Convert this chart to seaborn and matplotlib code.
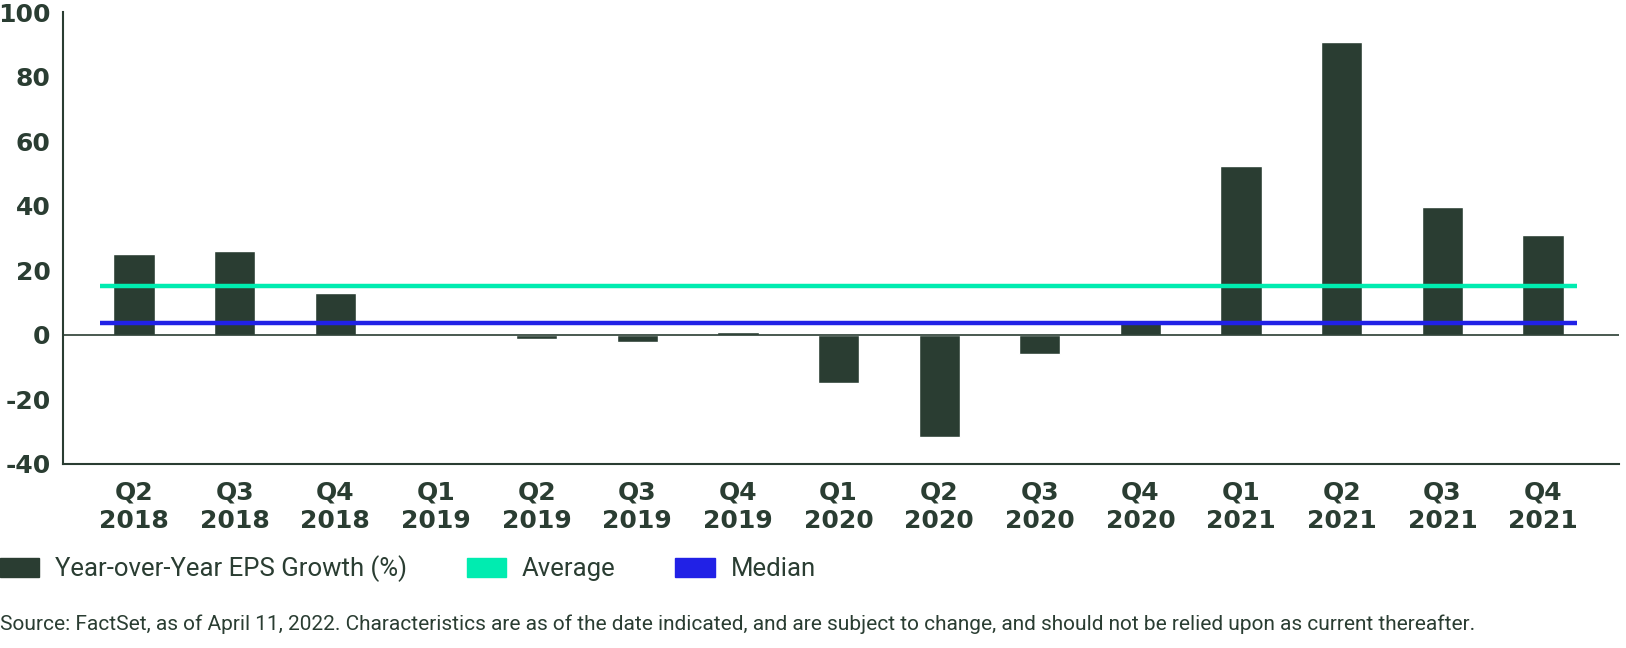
import numpy as np
import pandas as pd
import matplotlib
matplotlib.use("Agg")
import matplotlib.pyplot as plt
import seaborn as sns
from matplotlib.patches import Patch

# -------------------------------
# Data
# -------------------------------
quarters = ["Q2", "Q3", "Q4", "Q1", "Q2", "Q3", "Q4", "Q1",
            "Q2", "Q3", "Q4", "Q1", "Q2", "Q3", "Q4"]
years = ["2018", "2018", "2018", "2019", "2019", "2019", "2019", "2020",
         "2020", "2020", "2020", "2021", "2021", "2021", "2021"]
eps_growth = [25.0, 26.0, 13.1, 0.1, -1.2, -2.2, 0.9, -15.0,
              -31.6, -5.8, 3.8, 52.4, 90.7, 39.6, 31.0]
average = 15.1
median = 3.8
y_ticks = [-40, -20, 0, 20, 40, 60, 80, 100]

labels = [f"{q}\n{y}" for q, y in zip(quarters, years)]
df = pd.DataFrame({"label": labels, "growth": eps_growth})

# -------------------------------
# Style
# -------------------------------
sns.set_style("white")
plt.rcParams["font.family"] = ["Roboto", "DejaVu Sans"]
plt.rcParams["axes.unicode_minus"] = False

dark = "#2a3d32"
green = "#00ecb0"
blue = "#2121e6"

fig = plt.figure(figsize=(16.26, 6.48), dpi=100)
ax = fig.add_axes([0.0388, 0.284, 0.9569, 0.697])

sns.barplot(data=df, x="label", y="growth", color=dark, width=0.41,
            saturation=1, ax=ax)

n = len(labels)
ax.hlines(average, -0.34, n - 1 + 0.34, color=green, lw=3.2, zorder=3)
ax.hlines(median, -0.34, n - 1 + 0.34, color=blue, lw=3.2, zorder=3)
ax.axhline(0, color=dark, lw=1.2, zorder=2)

ax.set_xlim(-0.705, n - 1 + 0.755)
ax.set_ylim(-40, 100)
ax.set_yticks(y_ticks)
ax.set_yticklabels([str(v) for v in y_ticks])
ax.set_xlabel("")
ax.set_ylabel("")

for side in ["top", "right"]:
    ax.spines[side].set_visible(False)
for side in ["left", "bottom"]:
    ax.spines[side].set_color(dark)
    ax.spines[side].set_linewidth(1.5)

ax.tick_params(axis="y", direction="in", length=5, width=1.2, color=dark,
               labelsize=18, labelcolor=dark, pad=9)
ax.tick_params(axis="x", length=0, labelsize=18, labelcolor=dark, pad=12)
for t in ax.get_xticklabels() + ax.get_yticklabels():
    t.set_fontweight("bold")
    t.set_family("DejaVu Sans")
    t.set_linespacing(1.25)

# -------------------------------
# Legend and source
# -------------------------------
handles = [Patch(color=dark, label="Year-over-Year EPS Growth (%)"),
           Patch(color=green, label="Average"),
           Patch(color=blue, label="Median")]
fig.legend(handles=handles, loc="center left", bbox_to_anchor=(0.0, 0.122),
           ncol=3, frameon=False, fontsize=18.5, labelcolor=dark,
           borderpad=0, borderaxespad=0,
           handlelength=1.52, handleheight=0.78, handletextpad=0.62,
           columnspacing=2.33)

fig.text(0.0, 0.036, "Source: FactSet, as of April 11, 2022. Characteristics are as of the date "
         "indicated, and are subject to change, and should not be relied upon as current thereafter.",
         fontsize=15, color=dark, va="center", ha="left")

fig.savefig("out.png", dpi=100)
